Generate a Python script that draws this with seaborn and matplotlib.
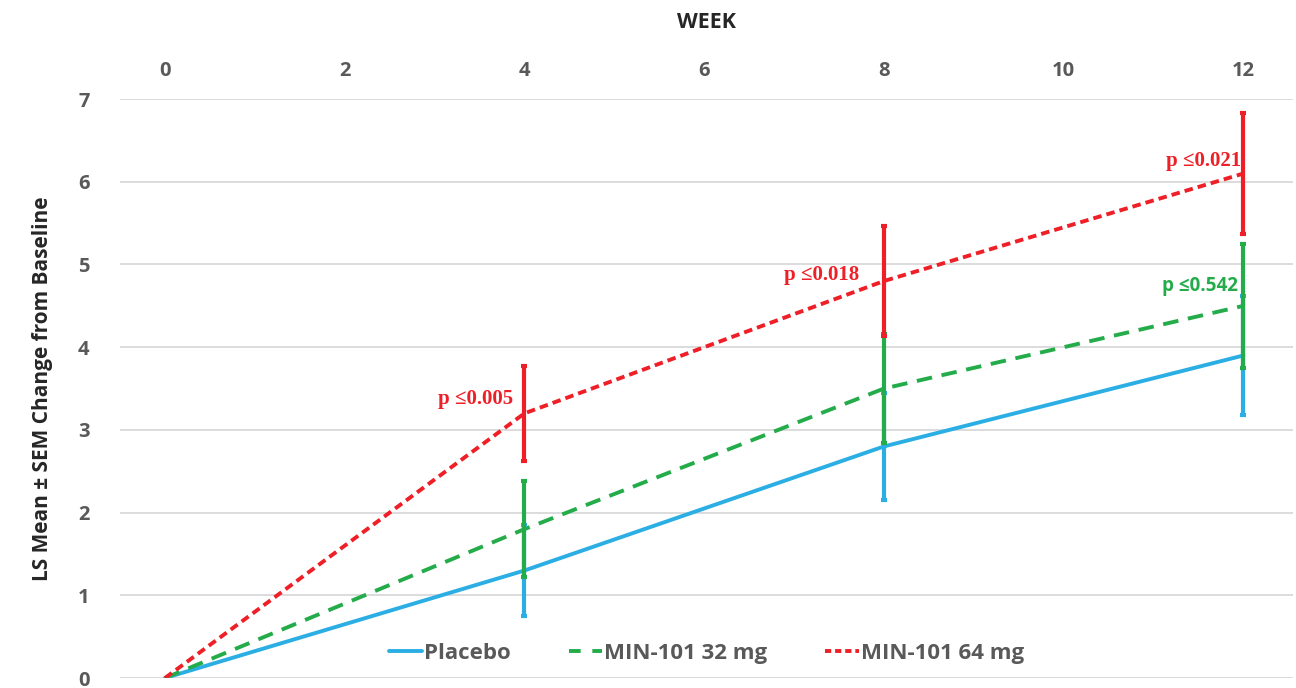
import pandas as pd
import numpy as np
import matplotlib.pyplot as plt
import seaborn as sns

# Daten
weeks = [0, 4, 8, 12]
placebo = [0.0, 1.3, 2.8, 3.9]
placebo_sem = [0.0, 0.55, 0.65, 0.72]
mg32 = [0.0, 1.8, 3.5, 4.5]
mg32_sem = [0.0, 0.58, 0.66, 0.75]
mg64 = [0.0, 3.2, 4.8, 6.1]
mg64_sem = [0.0, 0.57, 0.66, 0.73]
groups = ["Placebo", "MIN-101 32 mg", "MIN-101 64 mg"]
pvals_64 = ["p \u22640.005", "p \u22640.018", "p \u22640.021"]
pval_32_w12 = "p \u22640.542"

blue = "#2BAEE4"
green = "#24AC4A"
red = "#EE1F26"
colors = [blue, green, red]

df = pd.DataFrame({
    "week": weeks * 3,
    "value": placebo + mg32 + mg64,
    "sem": placebo_sem + mg32_sem + mg64_sem,
    "group": [g for g in groups for _ in weeks],
})

sns.set_style("white")
plt.rcParams["font.family"] = ["Open Sans", "DejaVu Sans"]

fig = plt.figure(figsize=(12.96, 6.88), dpi=100)
ax = fig.add_axes([0.0926, 0.0145, 0.905, 0.8415])

sns.lineplot(data=df, x="week", y="value", hue="group", style="group",
             palette=dict(zip(groups, colors)),
             dashes={groups[0]: "", groups[1]: (4, 2.5), groups[2]: (2.2, 1.3)},
             linewidth=2.8, ax=ax, legend=False, zorder=3)

# Fehlerbalken (SEM)
for g, c in zip(groups, colors):
    sub = df[(df["group"] == g) & (df["week"] > 0)]
    ax.errorbar(sub["week"], sub["value"], yerr=sub["sem"], fmt="none",
                ecolor=c, elinewidth=3, capsize=2.5, capthick=3, zorder=4)

# p-Werte (Versatz je Punkt in Punkten)
offs_64 = [(-8, 10), (-18, 4), (-2, 9)]
sub64 = df[(df["group"] == groups[2]) & (df["week"] > 0)]
for (w, v), txt, off in zip(sub64[["week", "value"]].values, pvals_64, offs_64):
    ax.annotate(txt, (w, v), xytext=off, textcoords="offset points",
                ha="right", va="center", color=red, fontsize=15,
                fontweight="bold", family="Liberation Serif")
ax.annotate(pval_32_w12, (12, 4.5), xytext=(-4, 14), textcoords="offset points",
            ha="right", va="center", color=green, fontsize=13.5, fontweight="bold")

ax.set_xlim(-0.5, 12.55)
ax.set_ylim(0, 7)
ax.set_xticks(range(0, 13, 2))
ax.set_yticks(range(0, 8))
ax.xaxis.tick_top()
ax.xaxis.set_label_position("top")
ax.tick_params(axis="both", length=0, labelsize=14.5, labelcolor="#595959", pad=13)
ax.tick_params(axis="y", pad=22)
for lab in ax.get_xticklabels() + ax.get_yticklabels():
    lab.set_fontweight("bold")
ax.set_xlabel("WEEK", fontsize=15.5, fontweight="bold", labelpad=24)
ax.set_ylabel("LS Mean \u00b1 SEM Change from Baseline", fontsize=15,
              fontweight="bold", labelpad=18)
ax.yaxis.grid(True, color="#D9D9D9", linewidth=1.3)
ax.set_axisbelow(True)
sns.despine(ax=ax, left=True, top=True, right=True, bottom=True)

# Legende
handles = [
    plt.Line2D([], [], color=blue, lw=2.8),
    plt.Line2D([], [], color=green, lw=2.8, dashes=(3, 3)),
    plt.Line2D([], [], color=red, lw=2.8, dashes=(1.6, 1)),
]
leg = ax.legend(handles, groups, loc="lower center", ncol=3, frameon=False,
                fontsize=16, handlelength=1.5, handletextpad=0.1,
                columnspacing=2.6, bbox_to_anchor=(0.5, -0.01))
for t in leg.get_texts():
    t.set_color("#595959")
    t.set_fontweight("bold")

fig.savefig("out.png", dpi=100)
